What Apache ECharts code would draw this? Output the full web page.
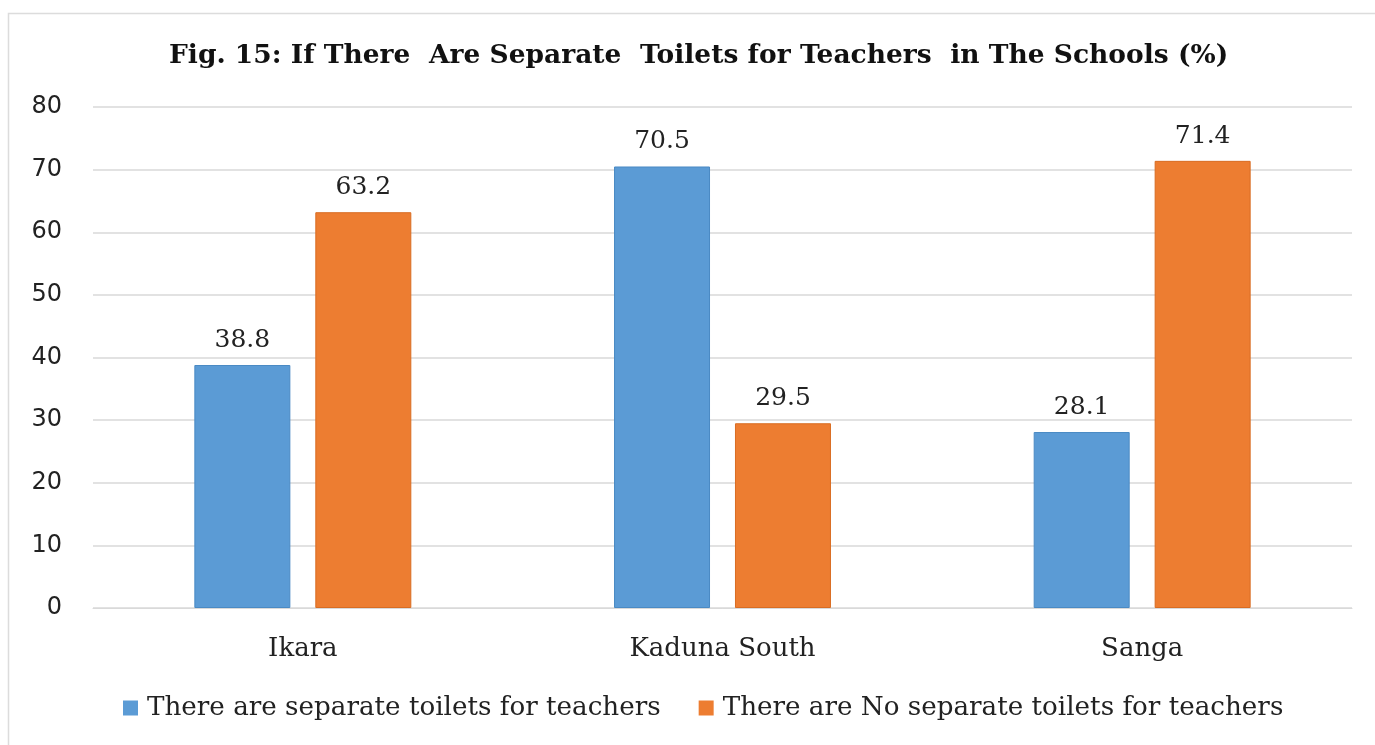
<!DOCTYPE html>
<html>
<head>
<meta charset="utf-8">
<script src="https://cdn.jsdelivr.net/npm/echarts@6/dist/echarts.min.js"></script>
<style>
  html, body { margin: 0; padding: 0; background: #fff; }
  #main { width: 1375px; height: 745px; }
</style>
</head>
<body>
<div id="main"></div>
<script>
const categories = ['Ikara', 'Kaduna South', 'Sanga']
const seriesNames = ['There are separate toilets for teachers', 'There are No separate toilets for teachers']
const withToilets = [38.8, 70.5, 28.1]
const withoutToilets = [63.2, 29.5, 71.4]
const yTicks = [0, 10, 20, 30, 40, 50, 60, 70, 80]

const serif = '"DejaVu Serif", "Liberation Serif", serif'
const chart = echarts.init(document.getElementById('main'))

const labelStyle = {
  show: true,
  position: 'top',
  distance: 12,
  color: '#222',
  fontFamily: serif,
  fontSize: 25
}

chart.setOption({
  animation: false,
  backgroundColor: '#fff',
  title: {
    text: 'Fig. 15: If There  Are Separate  Toilets for Teachers  in The Schools (%)',
    left: 164,
    top: 38,
    textStyle: { fontFamily: serif, fontWeight: 'bold', fontSize: 26.5, color: '#111' }
  },
  legend: {
    bottom: 19,
    left: 118,
    itemWidth: 15,
    itemHeight: 15,
    itemGap: 38,
    icon: 'rect',
    itemStyle: { borderWidth: 0 },
    textStyle: { fontFamily: serif, fontSize: 26.2, color: '#222', padding: [0, 0, 0, 4] }
  },
  grid: { left: 93, right: 23, top: 107, bottom: 137 },
  xAxis: {
    type: 'category',
    data: categories,
    axisLine: { lineStyle: { color: '#d9d9d9' } },
    axisTick: { show: false },
    axisLabel: { margin: 28, fontFamily: serif, fontSize: 26, color: '#222' }
  },
  yAxis: {
    type: 'value',
    min: yTicks[0],
    max: yTicks[yTicks.length - 1],
    interval: 10,
    axisLine: { show: false },
    axisTick: { show: false },
    splitLine: { lineStyle: { color: '#d9d9d9', width: 1.5 } },
    axisLabel: { margin: 31, fontFamily: '"DejaVu Sans", sans-serif', fontSize: 24, color: '#222' }
  },
  series: [
    {
      name: seriesNames[0],
      type: 'bar',
      data: withToilets,
      barWidth: 96,
      barGap: '26%',
      itemStyle: { color: '#5B9BD5', borderColor: '#4a8ac4', borderWidth: 1 },
      label: labelStyle
    },
    {
      name: seriesNames[1],
      type: 'bar',
      data: withoutToilets,
      barWidth: 96,
      itemStyle: { color: '#ED7D31', borderColor: '#d96c22', borderWidth: 1 },
      label: labelStyle
    }
  ],
  graphic: [{
    type: 'rect',
    shape: { x: 8.5, y: 13.5, width: 1400, height: 760 },
    style: { fill: 'none', stroke: '#dcdcdc', lineWidth: 1.5 },
    silent: true
  }]
})
</script>
</body>
</html>
